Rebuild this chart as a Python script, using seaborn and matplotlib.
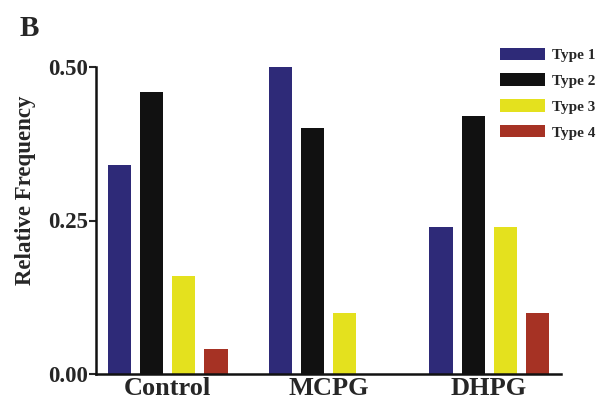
import pandas as pd
import matplotlib.pyplot as plt
import seaborn as sns

# values
conditions = ["Control", "MCPG", "DHPG"]
types = ["Type 1", "Type 2", "Type 3", "Type 4"]
type1 = [0.34, 0.50, 0.24]
type2 = [0.46, 0.40, 0.42]
type3 = [0.16, 0.10, 0.24]
type4 = [0.04, 0.00, 0.10]
colors = ["#2E2A78", "#111111", "#E4E11E", "#A63224"]

rows = []
for t, vals in zip(types, [type1, type2, type3, type4]):
    for c, v in zip(conditions, vals):
        rows.append({"Condition": c, "Type": t, "Frequency": v})
df = pd.DataFrame(rows)

sns.set_style("ticks")
plt.rcParams["font.family"] = ["Liberation Serif", "DejaVu Serif"]
plt.rcParams["font.weight"] = "bold"

fig = plt.figure(figsize=(6.03, 4.01), dpi=100)
ax = fig.add_axes([96 / 603, 27 / 401, 465 / 603, 307 / 401])

sns.barplot(data=df, x="Condition", y="Frequency", hue="Type",
            order=conditions, hue_order=types, palette=colors,
            saturation=1, width=0.8, gap=0.28, linewidth=0, ax=ax)

ax.set_xlim(-0.447, 2.447)
ax.set_ylim(0, 0.5)
ax.set_yticks([0, 0.25, 0.5])
ax.set_yticklabels(["0.00", "0.25", "0.50"], fontsize=16.5, fontweight="bold")
ax.set_xticks(range(3))
ax.set_xticklabels(conditions, fontsize=19, fontweight="bold")
ax.tick_params(axis="x", length=0, pad=2)
ax.tick_params(axis="y", length=5, width=1.5, direction="out", pad=1)
ax.set_xlabel("")
ax.set_ylabel("Relative Frequency", fontsize=16.5, fontweight="bold")
ax.yaxis.set_label_coords(-0.13, 0.6)
for s in ["top", "right"]:
    ax.spines[s].set_visible(False)
for s in ["left", "bottom"]:
    ax.spines[s].set_linewidth(1.8)
    ax.spines[s].set_color("#111111")

handles, labels = ax.get_legend_handles_labels()
ax.legend(handles, labels, loc="upper left",
          bbox_to_anchor=(492 / 603, 1 - 40 / 401),
          bbox_transform=fig.transFigure, frameon=False, borderpad=0,
          handlelength=3.0, handleheight=0.85, labelspacing=0.75,
          handletextpad=0.4, prop={"size": 11, "weight": "bold"})

fig.text(20 / 603, 1 - 36 / 401, "B", fontsize=21, fontweight="bold")

fig.savefig("out.png", dpi=100)
